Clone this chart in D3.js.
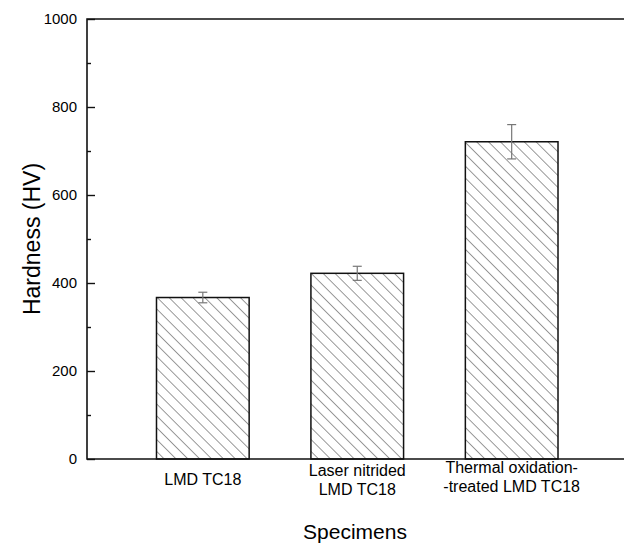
<!DOCTYPE html>
<html><head><meta charset="utf-8">
<script src="https://cdn.jsdelivr.net/npm/d3@7"></script>
<style>body{margin:0;background:#fff}svg{display:block}text{font-family:"Liberation Sans",Arial,sans-serif;fill:#000}</style>
</head><body>
<svg id="c" width="624" height="543"></svg>
<script>
const categories = [["LMD TC18"], ["Laser nitrided", "LMD TC18"], ["Thermal oxidation-", "-treated LMD TC18"]];
const hardness = [367, 422, 721];
const errors = [12, 16, 39];
const yTicks = [0, 200, 400, 600, 800, 1000];
const yMinorTicks = [100, 300, 500, 700, 900];

(function () {
const svg = d3.select("#c");
const pL = 87, pT = 19, pB = 459, pR = 627.5;
const x = d3.scaleLinear().domain([0.25, 3.75]).range([pL, pR]);
const y = d3.scaleLinear().domain([0, 1000]).range([pB, pT]);
const bw = x(1.6) - x(1);

const defs = svg.append("defs");
const pat = defs.append("pattern").attr("id", "hatch").attr("patternUnits", "userSpaceOnUse")
  .attr("width", 8.4).attr("height", 8.4).attr("patternTransform", "translate(157,298) rotate(-45)");
pat.append("line").attr("x1", 0).attr("y1", 0).attr("x2", 0).attr("y2", 8.4)
  .attr("stroke", "#333").attr("stroke-width", 1);

svg.selectAll("rect.bar").data(hardness).join("rect").attr("class", "bar")
  .attr("x", (d, i) => x(i + 1) - bw / 2).attr("width", bw)
  .attr("y", d => y(d)).attr("height", d => y(0) - y(d))
  .attr("fill", "url(#hatch)").attr("stroke", "#111").attr("stroke-width", 1.5);

const eg = svg.append("g").attr("stroke", "#777").attr("stroke-width", 1.2);
hardness.forEach((d, i) => {
  const cx = x(i + 1);
  eg.append("line").attr("x1", cx).attr("x2", cx).attr("y1", y(d + errors[i])).attr("y2", y(d - errors[i]));
  [d + errors[i], d - errors[i]].forEach(v => eg.append("line").attr("x1", cx - 4.5).attr("x2", cx + 4.5).attr("y1", y(v)).attr("y2", y(v)));
});

const fg = svg.append("g").attr("stroke", "#111").attr("stroke-width", 1.6).attr("fill", "none");
fg.append("path").attr("d", `M${pR},${pT}H${pL}V${pB}H${pR}`);

const yAxis = d3.axisLeft(y).tickValues(yTicks).tickSize(-8).tickPadding(10).tickFormat(d3.format("d"));
const ga = svg.append("g").attr("transform", `translate(${pL},0)`).call(yAxis);
ga.select(".domain").remove();
ga.selectAll(".tick line").attr("stroke", "#111").attr("stroke-width", 1.4);
ga.selectAll(".tick text").attr("font-size", 15).attr("font-family", "Liberation Sans, Arial, sans-serif").attr("fill", "#000");
const gm = svg.append("g").attr("transform", `translate(${pL},0)`).call(d3.axisLeft(y).tickValues(yMinorTicks).tickSize(-4).tickFormat(""));
gm.select(".domain").remove();
gm.selectAll(".tick line").attr("stroke", "#111").attr("stroke-width", 1.4);

categories.forEach((lines, i) => {
  const t = svg.append("text").attr("x", x(i + 1)).attr("text-anchor", "middle").attr("font-size", 16);
  const y0 = lines.length === 1 ? 485 : (i === 1 ? 476 : 473);
  lines.forEach((s, j) => t.append("tspan").attr("x", x(i + 1)).attr("y", y0 + j * 19).text(s));
});

svg.append("text").attr("x", 355).attr("y", 539).attr("text-anchor", "middle").attr("font-size", 21).text("Specimens");
svg.append("text").attr("transform", `translate(40,${(pT + pB) / 2}) rotate(-90)`).attr("text-anchor", "middle").attr("font-size", 23).text("Hardness (HV)");
})();
</script>
</body></html>
